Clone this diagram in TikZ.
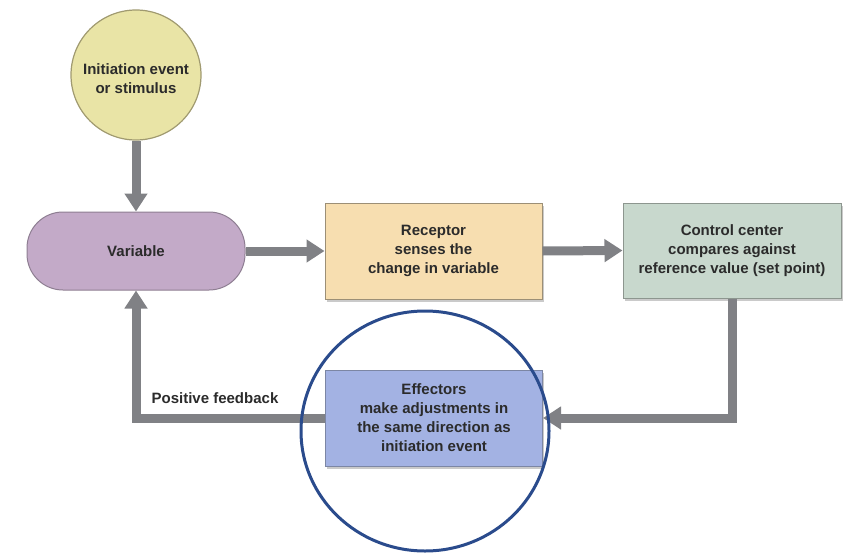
\documentclass[tikz,border=0pt]{standalone}
\usepackage{fontspec}
\setmainfont{Liberation Sans}
\usetikzlibrary{arrows.meta,shadows,shapes.geometric}
\definecolor{initfill}{HTML}{E9E4A6}
\definecolor{initdraw}{HTML}{A09A70}
\definecolor{varfill}{HTML}{C3AAC8}
\definecolor{vardraw}{HTML}{8E7E92}
\definecolor{recfill}{HTML}{F7DEB0}
\definecolor{recdraw}{HTML}{9C8F76}
\definecolor{ctrlfill}{HTML}{C8D8CD}
\definecolor{ctrldraw}{HTML}{8D968F}
\definecolor{efffill}{HTML}{A3B2E3}
\definecolor{effdraw}{HTML}{7C86A4}
\definecolor{flowgray}{HTML}{808185}
\definecolor{annot}{HTML}{2A4B8C}
\definecolor{txt}{HTML}{2B2B2B}
\begin{document}
\begin{tikzpicture}[x=1pt,y=-1pt,
  lbltext/.style={text=txt,font=\bfseries\fontsize{15}{19}\selectfont,align=center},
  boxshadow/.style={drop shadow={shadow xshift=1.5pt,shadow yshift=-3pt,opacity=0.35,fill=black!60}},
  stepbox/.style={lbltext,draw,line width=1pt,rectangle,minimum width=217pt,minimum height=96pt,inner sep=2pt,boxshadow},
  flow/.style={draw=flowgray,line width=9pt,-{Triangle[width=22pt,length=18pt]}}
]
\useasboundingbox (0,0) rectangle (856,554);
\node[lbltext,circle,draw=initdraw,fill=initfill,line width=1.2pt,minimum size=130pt,inner sep=0pt] (init) at (136,75) {\raisebox{-9pt}[0pt][0pt]{\begin{tabular}{@{}c@{}}Initiation event\\or stimulus\end{tabular}}};
\node[lbltext,draw=vardraw,fill=varfill,line width=1pt,rectangle,rounded corners=36pt,minimum width=218pt,minimum height=78pt] (var) at (136,251) {Variable};
\node[stepbox,draw=recdraw,fill=recfill] (rec) at (433.5,251) {Receptor\\senses the\\change in variable};
\node[stepbox,draw=ctrldraw,fill=ctrlfill,minimum width=218pt,minimum height=95pt] (ctrl) at (732,250.5) {Control center\\compares against\\reference value (set point)};
\node[stepbox,draw=effdraw,fill=efffill] (eff) at (434,418) {Effectors\\make adjustments in\\the same direction as\\initiation event};
\node[lbltext] (pf) at (215,398) {Positive feedback};
\draw[flow] (init.south) -- (var.north);
\draw[flow] (var.east) -- (rec.west);
\draw[flow] (rec.east) -- (ctrl.west);
\draw[flow] (ctrl.south) |- (eff.east);
\draw[flow] (eff.west) -| (var.south);
\node[draw=annot,line width=3pt,ellipse,minimum width=248pt,minimum height=240pt,inner sep=0pt] (hl) at (425,431) {};
\end{tikzpicture}
\end{document}
